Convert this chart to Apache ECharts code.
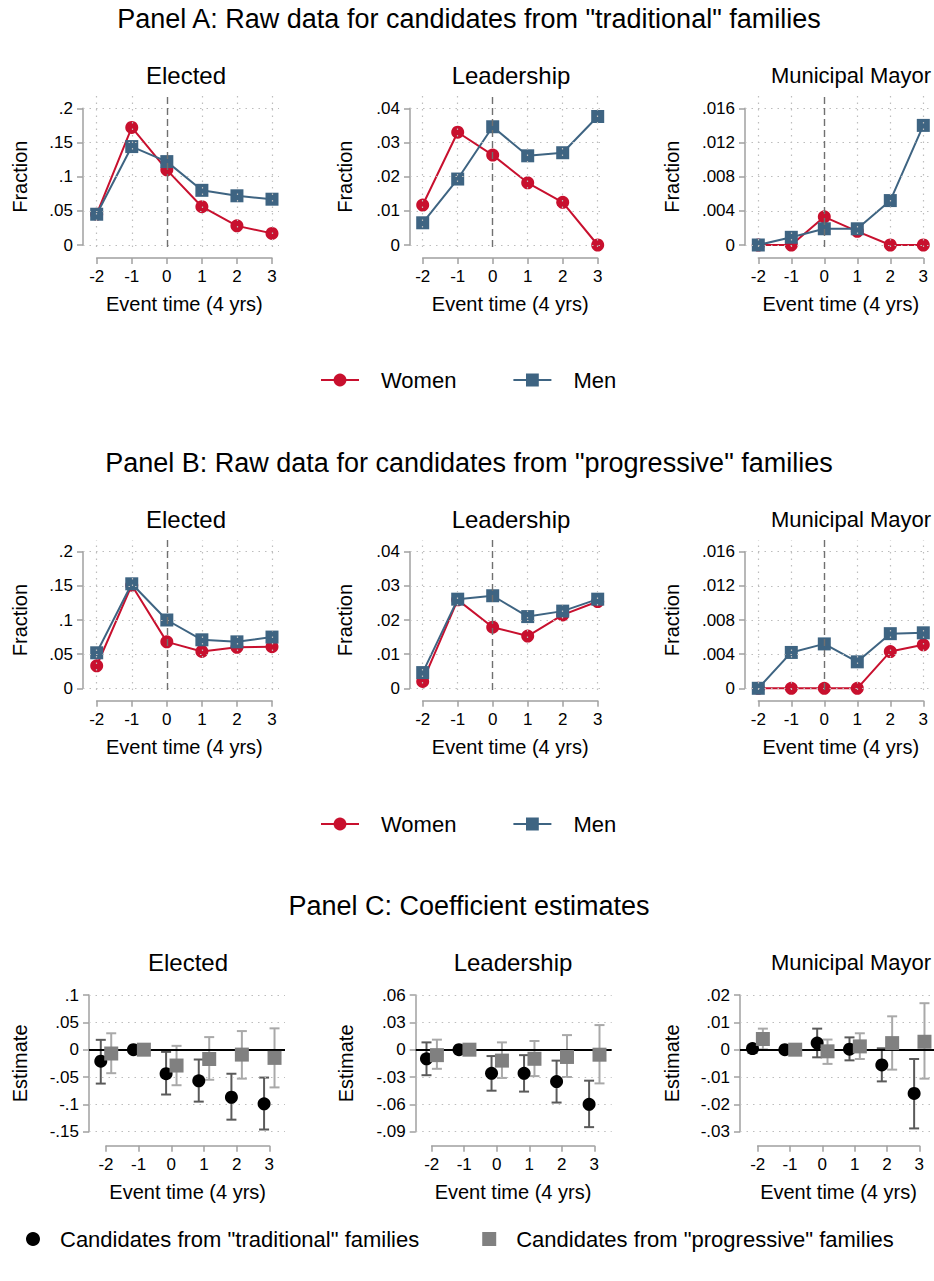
<!DOCTYPE html>
<html><head><meta charset="utf-8">
<script src="https://cdn.jsdelivr.net/npm/echarts@6/dist/echarts.min.js"></script>
<style>html,body{margin:0;padding:0;background:#fff}#c{width:934px;height:1281px}</style>
</head><body><div id="c"></div>
<script>
// ---------------- DATA ----------------
const eventTimes = [-2, -1, 0, 1, 2, 3];
const xTicks = [-2, -1, 0, 1, 2, 3];

// Panel A: "traditional" families (raw fractions)
const aElectedWomen = [0.045, 0.172, 0.110, 0.056, 0.028, 0.017];
const aElectedMen   = [0.045, 0.144, 0.122, 0.080, 0.072, 0.067];
const aLeaderWomen  = [0.0117, 0.0330, 0.0263, 0.0182, 0.0125, 0.0000];
const aLeaderMen    = [0.0065, 0.0193, 0.0346, 0.0261, 0.0270, 0.0376];
const aMayorWomen   = [0, 0, 0.0033, 0.0016, 0, 0];
const aMayorMen     = [0, 0.0009, 0.0019, 0.0019, 0.0052, 0.0140];

// Panel B: "progressive" families (raw fractions)
const bElectedWomen = [0.033, 0.151, 0.068, 0.054, 0.060, 0.061];
const bElectedMen   = [0.052, 0.153, 0.100, 0.071, 0.068, 0.075];
const bLeaderWomen  = [0.0020, 0.0259, 0.0179, 0.0153, 0.0215, 0.0254];
const bLeaderMen    = [0.0046, 0.0261, 0.0271, 0.0210, 0.0226, 0.0261];
const bMayorWomen   = [0, 0, 0, 0, 0.0043, 0.0051];
const bMayorMen     = [0, 0.0042, 0.0052, 0.0031, 0.0064, 0.0065];

// Panel C: coefficient estimates with confidence intervals
const cElectedTradEst = [-0.021, 0, -0.044, -0.057, -0.087, -0.099];
const cElectedTradLo  = [-0.062, null, -0.082, -0.095, -0.128, -0.146];
const cElectedTradHi  = [0.018, null, -0.004, -0.018, -0.044, -0.051];
const cElectedProgEst = [-0.007, 0, -0.029, -0.017, -0.009, -0.015];
const cElectedProgLo  = [-0.043, null, -0.065, -0.055, -0.053, -0.069];
const cElectedProgHi  = [0.030, null, 0.007, 0.023, 0.034, 0.039];

const cLeaderTradEst = [-0.010, 0, -0.026, -0.026, -0.035, -0.060];
const cLeaderTradLo  = [-0.028, null, -0.045, -0.046, -0.058, -0.085];
const cLeaderTradHi  = [0.008, null, -0.007, -0.006, -0.012, -0.034];
const cLeaderProgEst = [-0.006, 0, -0.012, -0.010, -0.008, -0.0055];
const cLeaderProgLo  = [-0.021, null, -0.031, -0.029, -0.030, -0.037];
const cLeaderProgHi  = [0.011, null, 0.008, 0.0095, 0.016, 0.027];

const cMayorTradEst = [0.0004, 0, 0.0024, 0.0002, -0.0056, -0.0160];
const cMayorTradLo  = [-0.0012, null, -0.0028, -0.0039, -0.0116, -0.0288];
const cMayorTradHi  = [0.0018, null, 0.0077, 0.0045, 0.0005, -0.0034];
const cMayorProgEst = [0.0039, 0, -0.0006, 0.0012, 0.0024, 0.0029];
const cMayorProgLo  = [0.0001, null, -0.0052, -0.0034, -0.0073, -0.0106];
const cMayorProgHi  = [0.0077, null, 0.0037, 0.0060, 0.0122, 0.0170];

// Tick values
const yTicksElected = [0, 0.05, 0.1, 0.15, 0.2];
const yTicksLeader  = [0, 0.01, 0.02, 0.03, 0.04];
const yTicksMayor   = [0, 0.004, 0.008, 0.012, 0.016];
const cTicksElected = [-0.15, -0.1, -0.05, 0, 0.05, 0.1];
const cTicksLeader  = [-0.09, -0.06, -0.03, 0, 0.03, 0.06];
const cTicksMayor   = [-0.03, -0.02, -0.01, 0, 0.01, 0.02];

// Texts
const panelTitles = [
  'Panel A: Raw data for candidates from "traditional" families',
  'Panel B: Raw data for candidates from "progressive" families',
  'Panel C: Coefficient estimates'
];
const subTitles = ['Elected', 'Leadership', 'Municipal Mayor'];
const seriesNames = ['Women', 'Men'];
const coefNames = ['Candidates from "traditional" families', 'Candidates from "progressive" families'];
const xName = 'Event time (4 yrs)';

// ---------------- STYLE / LAYOUT ----------------
const FONT = '"Liberation Sans", Arial, Helvetica, sans-serif';
const RED = '#c8102e', BLUE = '#3e6482';
const AXIS = '#a0a0a0';
const GRIDC = '#bdbdbd';

function fmt(v) {
  let s = String(+(+v).toFixed(4));
  if (s.startsWith('0.')) s = s.slice(1);
  else if (s.startsWith('-0.')) s = '-' + s.slice(2);
  return s;
}

const colsAB = [
  {l: 83,  r: 279,   x0: 96.7,  x1: 272,   gapY: 53, cx: 186},
  {l: 410, r: 604.7, x0: 422.7, x1: 597.7, gapY: 55, cx: 511},
  {l: 745, r: 930,   x0: 758.3, x1: 923.3, gapY: 63, cx: 851}
];
const colsC = [
  {l: 89,    r: 285,   x0: 106,   x1: 269.3, gapY: 59, cx: 188},
  {l: 415.7, r: 611.7, x0: 431.7, x1: 594.3, gapY: 60, cx: 513},
  {l: 740,   r: 934,   x0: 757.7, x1: 919.3, gapY: 58, cx: 851}
];
const subSizes = [24, 24, 22];
const rows = {
  A: {t: 95,  b: 247,  yMax: 108.3, yMin: 245,    xLine: 258,    titleY: 20,  subY: 76},
  B: {t: 540, b: 690,  yMax: 551.7, yMin: 688.3,  xLine: 700.7,  titleY: 464, subY: 520},
  C: {t: 978, b: 1140, yMax: 995,   yMin: 1131.7, xLine: 1145.7, titleY: 907, subY: 963}
};

const grid = [], xAxis = [], yAxis = [], series = [], title = [];
const hidden = {show: false, axisLine: {show: false}, axisTick: {show: false}, axisLabel: {show: false},
                splitLine: {show: false}, splitArea: {show: false}, minorSplitLine: {show: false}};

function addPanel(col, row, ticks, yName, kind) {
  const gi = grid.length;
  const tMin = ticks[0], tMax = ticks[ticks.length - 1];
  const xFirst = xTicks[0], xLast = xTicks[xTicks.length - 1];
  const xu = (col.x1 - col.x0) / (xLast - xFirst);
  const yu = (row.yMin - row.yMax) / (tMax - tMin);
  // plot region grid
  grid.push({left: col.l, top: row.t, width: col.r - col.l, height: row.b - row.t,
             containLabel: false, outerBoundsMode: 'none', show: false});
  xAxis.push(Object.assign({gridIndex: gi, type: 'value',
              min: xFirst - (col.x0 - col.l) / xu, max: xLast + (col.r - col.x1) / xu}, hidden));
  yAxis.push(Object.assign({gridIndex: gi, type: 'value',
              min: tMin - (row.b - row.yMin) / yu, max: tMax + (row.yMax - row.t) / yu}, hidden));
  // axis grid (axis spans only from first to last tick, Stata style)
  grid.push({left: col.x0, top: row.yMax, width: col.x1 - col.x0, height: row.yMin - row.yMax,
             containLabel: false, outerBoundsMode: 'none', show: false});
  const axLine = {show: true, onZero: false, lineStyle: {color: AXIS, width: 1.5}};
  const axTick = {show: true, inside: false, length: 6, lineStyle: {color: AXIS, width: 1.5}};
  const axLabel = {color: '#000', fontSize: 17, fontFamily: FONT, margin: 10, formatter: fmt};
  xAxis.push({gridIndex: gi + 1, type: 'value', min: xFirst, max: xLast, interval: 1,
              offset: row.xLine - row.yMin, axisLine: axLine, axisTick: axTick,
              axisLabel: Object.assign({}, axLabel, {formatter: v => String(v)}),
              splitLine: {show: false}, minorTick: {show: false}, minorSplitLine: {show: false},
              name: xName, nameLocation: 'middle', nameGap: 36,
              nameTextStyle: {color: '#000', fontSize: 20, fontFamily: FONT}});
  yAxis.push({gridIndex: gi + 1, type: 'value', min: tMin, max: tMax,
              interval: +(ticks[1] - ticks[0]).toFixed(6),
              offset: col.x0 - col.l, axisLine: axLine, axisTick: axTick,
              axisLabel: axLabel, splitLine: {show: false}, minorTick: {show: false}, minorSplitLine: {show: false},
              name: yName, nameLocation: 'middle', nameRotate: 90, nameGap: col.gapY,
              nameTextStyle: {color: '#000', fontSize: 20, fontFamily: FONT}});
  // grid lines as mark lines in the plot region
  const dotted = {type: [1.5, 5], color: GRIDC, width: 1.2};
  const ml = [];
  ticks.forEach(v => {
    if (kind === 'coef' && Math.abs(v) < 1e-12) {
      ml.push({yAxis: v, lineStyle: {type: 'solid', color: '#000', width: 2}});
    } else {
      ml.push({yAxis: v, lineStyle: dotted});
    }
  });
  if (kind === 'raw') {
    xTicks.forEach(v => { if (v !== 0) ml.push({xAxis: v, lineStyle: dotted}); });
    ml.push({xAxis: 0, lineStyle: {type: [7, 4], color: '#707070', width: 1.4}});
  }
  series.push({type: 'line', xAxisIndex: gi, yAxisIndex: gi, data: [], z: 1, silent: true,
               markLine: {silent: true, precision: 8, symbol: ['none', 'none'], label: {show: false},
                          emphasis: {disabled: true}, animation: false, data: ml}});
  return gi;
}

function addRaw(col, row, ticks, women, men) {
  const gi = addPanel(col, row, ticks, 'Fraction', 'raw');
  const mk = (name, vals, color, symbol, size, z) => ({
    name, type: 'line', xAxisIndex: gi, yAxisIndex: gi, z,
    data: eventTimes.map((t, i) => [t, vals[i]]),
    symbol, symbolSize: size, showAllSymbol: true,
    lineStyle: {color, width: 2}, itemStyle: {color, borderWidth: 0, opacity: 1},
    emphasis: {disabled: true}, clip: false
  });
  series.push(mk(seriesNames[0], women, RED, 'circle', 13, 3));
  series.push(mk(seriesNames[1], men, BLUE, 'rect', 13, 4));
}

function errBar(gi, off, lo, hi, color) {
  return {
    type: 'custom', xAxisIndex: gi, yAxisIndex: gi, z: 3, clip: false, silent: true,
    data: eventTimes.map((t, i) => [t + off, lo[i], hi[i]]).filter(d => d[1] !== null),
    encode: {x: 0, y: [1, 2]},
    renderItem: function (params, api) {
      const x = api.value(0);
      const p1 = api.coord([x, api.value(2)]);
      const p2 = api.coord([x, api.value(1)]);
      const cw = 5, st = {stroke: color, lineWidth: 2};
      return {type: 'group', children: [
        {type: 'line', shape: {x1: p1[0], y1: p1[1], x2: p2[0], y2: p2[1]}, style: st},
        {type: 'line', shape: {x1: p1[0] - cw, y1: p1[1], x2: p1[0] + cw, y2: p1[1]}, style: st},
        {type: 'line', shape: {x1: p2[0] - cw, y1: p2[1], x2: p2[0] + cw, y2: p2[1]}, style: st}
      ]};
    }
  };
}

function addCoef(col, ticks, tEst, tLo, tHi, pEst, pLo, pHi) {
  const gi = addPanel(col, rows.C, ticks, 'Estimate', 'coef');
  const offT = -0.16, offP = 0.16;
  series.push(errBar(gi, offT, tLo, tHi, '#5a5a5a'));
  series.push(errBar(gi, offP, pLo, pHi, '#a9a9a9'));
  series.push({name: coefNames[0], type: 'scatter', xAxisIndex: gi, yAxisIndex: gi, z: 5,
               data: eventTimes.map((t, i) => [t + offT, tEst[i]]),
               symbol: 'circle', symbolSize: 13, itemStyle: {color: '#000', opacity: 1},
               emphasis: {disabled: true}, clip: false});
  series.push({name: coefNames[1], type: 'scatter', xAxisIndex: gi, yAxisIndex: gi, z: 5,
               data: eventTimes.map((t, i) => [t + offP, pEst[i]]),
               symbol: 'rect', symbolSize: 14, itemStyle: {color: '#808080', opacity: 1},
               emphasis: {disabled: true}, clip: false});
}

addRaw(colsAB[0], rows.A, yTicksElected, aElectedWomen, aElectedMen);
addRaw(colsAB[1], rows.A, yTicksLeader,  aLeaderWomen,  aLeaderMen);
addRaw(colsAB[2], rows.A, yTicksMayor,   aMayorWomen,   aMayorMen);
addRaw(colsAB[0], rows.B, yTicksElected, bElectedWomen, bElectedMen);
addRaw(colsAB[1], rows.B, yTicksLeader,  bLeaderWomen,  bLeaderMen);
addRaw(colsAB[2], rows.B, yTicksMayor,   bMayorWomen,   bMayorMen);
addCoef(colsC[0], cTicksElected, cElectedTradEst, cElectedTradLo, cElectedTradHi, cElectedProgEst, cElectedProgLo, cElectedProgHi);
addCoef(colsC[1], cTicksLeader,  cLeaderTradEst,  cLeaderTradLo,  cLeaderTradHi,  cLeaderProgEst,  cLeaderProgLo,  cLeaderProgHi);
addCoef(colsC[2], cTicksMayor,   cMayorTradEst,   cMayorTradLo,   cMayorTradHi,   cMayorProgEst,   cMayorProgLo,   cMayorProgHi);

// titles
['A', 'B', 'C'].forEach((k, pi) => {
  const r = rows[k];
  title.push({text: panelTitles[pi], left: 469, top: r.titleY - 15, textAlign: 'center', padding: 0,
              textStyle: {fontSize: 27, fontWeight: 'normal', color: '#000', fontFamily: FONT}});
  const cols = k === 'C' ? colsC : colsAB;
  subTitles.forEach((s, si) => {
    const fs = subSizes[si];
    title.push({text: s, left: cols[si].cx, top: r.subY - fs / 2 - 1, textAlign: 'center', padding: 0,
                textStyle: {fontSize: fs, fontWeight: 'normal', color: '#000', fontFamily: FONT}});
  });
});

const legTxt = {fontSize: 22, color: '#000', fontFamily: FONT, padding: [0, 0, 0, 17]};
const legend = [
  {left: 320, top: 369, padding: 0, data: seriesNames, itemWidth: 38, itemHeight: 16, itemGap: 56,
   selectedMode: false, textStyle: legTxt},
  {left: 320, top: 813, padding: 0, data: seriesNames, itemWidth: 38, itemHeight: 16, itemGap: 56,
   selectedMode: false, textStyle: legTxt},
  {left: 26, top: 1228, padding: 0, data: coefNames, itemWidth: 14, itemHeight: 14, itemGap: 63,
   selectedMode: false, textStyle: Object.assign({}, legTxt, {padding: [0, 0, 0, 15]})}
];

const chart = echarts.init(document.getElementById('c'), null, {renderer: 'svg', width: 934, height: 1281});
chart.setOption({
  backgroundColor: '#fff',
  animation: false,
  textStyle: {fontFamily: FONT},
  title, legend, grid, xAxis, yAxis, series
});
</script>
</body></html>
